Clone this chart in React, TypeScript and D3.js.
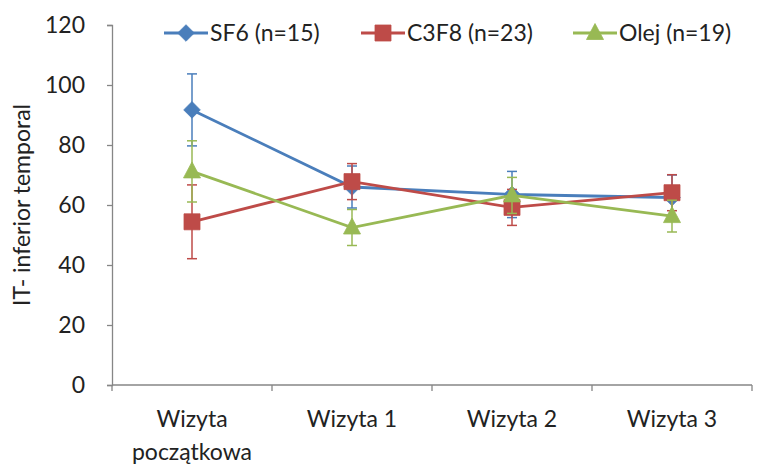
import React, { useRef, useEffect } from 'react';
import * as d3 from 'd3';

const categories = ['Wizyta|początkowa', 'Wizyta 1', 'Wizyta 2', 'Wizyta 3'];
const seriesNames = ['SF6 (n=15)', 'C3F8 (n=23)', 'Olej (n=19)'];
const sf6Values = [91.7, 66.0, 63.5, 62.5];
const sf6Errors = [12.0, 7.0, 7.7, 7.5];
const c3f8Values = [54.4, 67.8, 59.2, 64.1];
const c3f8Errors = [12.3, 6.0, 6.0, 6.0];
const olejValues = [71.2, 52.5, 63.2, 56.3];
const olejErrors = [10.2, 6.0, 6.0, 5.3];
const yTicks = [0, 20, 40, 60, 80, 100, 120];
const yLabel = 'IT- inferior temporal';

const colors = ['#4A7EBB', '#BE4B48', '#98B954'];

// marker shapes like Excel's (diamond, square, triangle)
const markerPath = (kind: number) => {
  const p = d3.path();
  if (kind === 0) {
    p.moveTo(0, -8.3); p.lineTo(8.3, 0); p.lineTo(0, 8.3); p.lineTo(-8.3, 0);
  } else if (kind === 1) {
    p.rect(-8, -8, 16, 16);
  } else {
    p.moveTo(0, -9.5); p.lineTo(8.5, 6.5); p.lineTo(-8.5, 6.5);
  }
  p.closePath();
  return p.toString();
};

const App = () => {
  const svgRef = useRef<SVGSVGElement>(null);

  useEffect(() => {
    const width = 757;
    const height = 464;
    const margin = { top: 25, right: 5, bottom: 79, left: 112 };
    const font = 'Lato, "Open Sans", sans-serif';
    const fs = 23;

    const svg = d3.select(svgRef.current)
      .attr('width', width)
      .attr('height', height)
      .style('background', 'white');

    svg.selectAll('*').remove();

    const series = [
      { name: seriesNames[0], values: sf6Values, errors: sf6Errors },
      { name: seriesNames[1], values: c3f8Values, errors: c3f8Errors },
      { name: seriesNames[2], values: olejValues, errors: olejErrors },
    ];

    const x = d3.scaleBand()
      .domain(categories)
      .range([margin.left, width - margin.right]);

    const y = d3.scaleLinear()
      .domain([0, 120])
      .range([height - margin.bottom, margin.top]);

    const axisColor = '#868686';

    // Y axis
    const yAxis = svg.append('g')
      .attr('transform', `translate(${margin.left}, 0)`)
      .call(d3.axisLeft(y).tickValues(yTicks).tickSize(5).tickPadding(22));
    yAxis.select('.domain').attr('stroke', axisColor).attr('stroke-width', 1.3);
    yAxis.selectAll('.tick line').attr('stroke', axisColor).attr('stroke-width', 1.3);
    yAxis.selectAll('.tick text')
      .attr('fill', '#222')
      .attr('font-size', fs)
      .attr('font-family', font);

    // X axis: ticks between categories
    const xAxisG = svg.append('g');
    xAxisG.append('line')
      .attr('x1', margin.left).attr('x2', width - margin.right)
      .attr('y1', y(0)).attr('y2', y(0))
      .attr('stroke', axisColor).attr('stroke-width', 1.3);
    const boundaries = categories.map(c => x(c) as number).concat([x.range()[1]]);
    xAxisG.selectAll('line.tk')
      .data(boundaries)
      .enter()
      .append('line')
      .attr('class', 'tk')
      .attr('x1', d => d).attr('x2', d => d)
      .attr('y1', y(0)).attr('y2', y(0) + 6)
      .attr('stroke', axisColor).attr('stroke-width', 1.3);

    const xLabels = xAxisG.selectAll('text')
      .data(categories)
      .enter()
      .append('text')
      .attr('x', d => (x(d) as number) + x.bandwidth() / 2)
      .attr('y', y(0) + 42)
      .attr('text-anchor', 'middle')
      .attr('fill', '#222')
      .attr('font-size', fs)
      .attr('font-family', font);
    xLabels.each(function (d) {
      const lines = d.split('|');
      const t = d3.select(this);
      lines.forEach((ln, i) => {
        t.append('tspan')
          .attr('x', (x(d) as number) + x.bandwidth() / 2)
          .attr('dy', i === 0 ? 0 : 33)
          .text(ln);
      });
    });

    // Y label
    svg.append('text')
      .attr('transform', `translate(30, ${(y(0) + y(120)) / 2}) rotate(-90)`)
      .attr('text-anchor', 'middle')
      .attr('fill', '#222')
      .attr('font-size', fs)
      .attr('font-family', font)
      .text(yLabel);

    const cx = (c: string) => (x(c) as number) + x.bandwidth() / 2;
    const line = d3.line<number>()
      .x((d, i) => cx(categories[i]))
      .y(d => y(d));

    series.forEach((s, si) => {
      const g = svg.append('g');
      // error bars
      s.values.forEach((v, i) => {
        const px = cx(categories[i]);
        const lo = y(v - s.errors[i]);
        const hi = y(v + s.errors[i]);
        g.append('line')
          .attr('x1', px).attr('x2', px).attr('y1', lo).attr('y2', hi)
          .attr('stroke', colors[si]).attr('stroke-width', 1.5);
        [lo, hi].forEach(yy => {
          g.append('line')
            .attr('x1', px - 5).attr('x2', px + 5).attr('y1', yy).attr('y2', yy)
            .attr('stroke', colors[si]).attr('stroke-width', 1.5);
        });
      });
      g.append('path')
        .datum(s.values)
        .attr('d', line)
        .attr('fill', 'none')
        .attr('stroke', colors[si])
        .attr('stroke-width', 2.8);
      g.selectAll('path.mk')
        .data(s.values)
        .enter()
        .append('path')
        .attr('class', 'mk')
        .attr('transform', (d, i) => `translate(${cx(categories[i])}, ${y(d)})`)
        .attr('d', markerPath(si))
        .attr('fill', colors[si])
        .attr('stroke', colors[si])
        .attr('stroke-width', 0.8);
    });

    // Legend
    const legendX = [164, 361, 573];
    const legendY = 33;
    seriesNames.forEach((name, si) => {
      const lg = svg.append('g').attr('transform', `translate(${legendX[si]}, ${legendY})`);
      lg.append('line')
        .attr('x1', 0).attr('x2', 44).attr('y1', 0).attr('y2', 0)
        .attr('stroke', colors[si]).attr('stroke-width', 2.8);
      lg.append('path')
        .attr('transform', 'translate(22, 0)')
        .attr('d', markerPath(si))
        .attr('fill', colors[si])
        .attr('stroke', colors[si])
        .attr('stroke-width', 0.8);
      lg.append('text')
        .attr('x', 46)
        .attr('y', 8)
        .attr('fill', '#222')
        .attr('font-size', fs)
        .attr('font-family', font)
        .text(name);
    });
  }, []);

  return <svg ref={svgRef} style={{ position: 'absolute', left: 0, top: 0, display: 'block' }}></svg>;
};

export default App;
